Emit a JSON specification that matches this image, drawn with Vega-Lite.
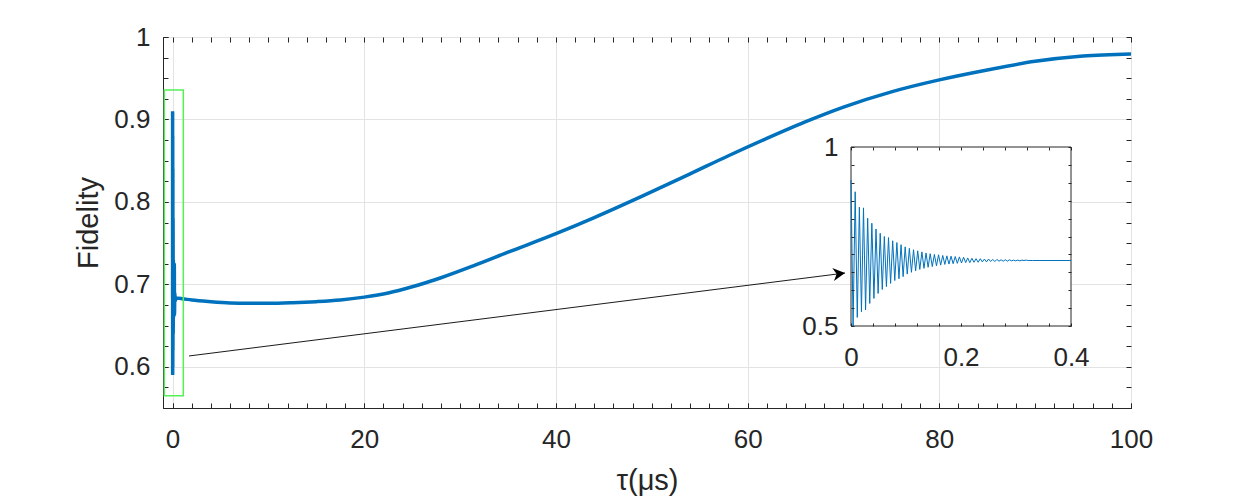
{
  "$schema": "https://vega.github.io/schema/vega-lite/v6.json",
  "autosize": {"type": "none"},
  "padding": {"left": 163, "top": 37, "right": 119, "bottom": 92},
  "width": 968,
  "height": 371,
  "background": "white",
  "datasets": {
    "main": [
      {"t": 0, "F": 0.683}, {"t": 0.003, "F": 0.91}, {"t": 0.008, "F": 0.59}, {"t": 0.015, "F": 0.88},
      {"t": 0.022, "F": 0.6}, {"t": 0.03, "F": 0.84}, {"t": 0.038, "F": 0.62}, {"t": 0.05, "F": 0.78},
      {"t": 0.065, "F": 0.64}, {"t": 0.08, "F": 0.73}, {"t": 0.1, "F": 0.66}, {"t": 0.13, "F": 0.7},
      {"t": 0.16, "F": 0.675}, {"t": 0.18, "F": 0.725}, {"t": 0.2, "F": 0.663}, {"t": 0.23, "F": 0.69},
      {"t": 0.28, "F": 0.68}, {"t": 0.35, "F": 0.683}, {"t": 0.6, "F": 0.683}, {"t": 1, "F": 0.6825},
      {"t": 2, "F": 0.681}, {"t": 4, "F": 0.679}, {"t": 6, "F": 0.6775}, {"t": 8, "F": 0.677},
      {"t": 10, "F": 0.677}, {"t": 12.5, "F": 0.6777}, {"t": 15, "F": 0.679}, {"t": 17.5, "F": 0.681},
      {"t": 20, "F": 0.6845}, {"t": 22.5, "F": 0.6895}, {"t": 25, "F": 0.697}, {"t": 28, "F": 0.708},
      {"t": 31.5, "F": 0.723}, {"t": 35, "F": 0.739}, {"t": 40, "F": 0.7615}, {"t": 44, "F": 0.781},
      {"t": 49, "F": 0.807}, {"t": 54, "F": 0.834}, {"t": 58, "F": 0.856}, {"t": 62, "F": 0.877},
      {"t": 66, "F": 0.897}, {"t": 70, "F": 0.915}, {"t": 75, "F": 0.9335}, {"t": 80, "F": 0.948},
      {"t": 85, "F": 0.96}, {"t": 90, "F": 0.9705}, {"t": 95, "F": 0.977}, {"t": 100, "F": 0.9795}
    ],
    "osc": [
      {"t": 0, "F": 0.908}, {"t": 0.0038, "F": 0.5},
      {"t": 0.0076, "F": 0.875}, {"t": 0.0114, "F": 0.524},
      {"t": 0.0152, "F": 0.832}, {"t": 0.019, "F": 0.54},
      {"t": 0.0227, "F": 0.83}, {"t": 0.0265, "F": 0.545},
      {"t": 0.0303, "F": 0.801}, {"t": 0.0341, "F": 0.563},
      {"t": 0.0379, "F": 0.787}, {"t": 0.0417, "F": 0.577},
      {"t": 0.0455, "F": 0.771}, {"t": 0.0493, "F": 0.591},
      {"t": 0.0531, "F": 0.759}, {"t": 0.0569, "F": 0.602},
      {"t": 0.0606, "F": 0.75}, {"t": 0.0644, "F": 0.61},
      {"t": 0.0682, "F": 0.747}, {"t": 0.072, "F": 0.619},
      {"t": 0.0758, "F": 0.738}, {"t": 0.0796, "F": 0.627},
      {"t": 0.0834, "F": 0.733}, {"t": 0.0872, "F": 0.632},
      {"t": 0.091, "F": 0.727}, {"t": 0.0948, "F": 0.638},
      {"t": 0.0985, "F": 0.721}, {"t": 0.1023, "F": 0.645},
      {"t": 0.1061, "F": 0.717}, {"t": 0.1099, "F": 0.65},
      {"t": 0.1137, "F": 0.713}, {"t": 0.1175, "F": 0.654},
      {"t": 0.1213, "F": 0.71}, {"t": 0.1251, "F": 0.658},
      {"t": 0.1289, "F": 0.707}, {"t": 0.1327, "F": 0.661},
      {"t": 0.1364, "F": 0.704}, {"t": 0.1402, "F": 0.664},
      {"t": 0.144, "F": 0.702}, {"t": 0.1478, "F": 0.666},
      {"t": 0.1516, "F": 0.7}, {"t": 0.1554, "F": 0.668},
      {"t": 0.1592, "F": 0.699}, {"t": 0.163, "F": 0.67},
      {"t": 0.1668, "F": 0.697}, {"t": 0.1706, "F": 0.672},
      {"t": 0.1743, "F": 0.696}, {"t": 0.1781, "F": 0.673},
      {"t": 0.1819, "F": 0.695}, {"t": 0.1857, "F": 0.674},
      {"t": 0.1895, "F": 0.694}, {"t": 0.1933, "F": 0.675},
      {"t": 0.1971, "F": 0.693}, {"t": 0.2009, "F": 0.676},
      {"t": 0.2047, "F": 0.692}, {"t": 0.2085, "F": 0.677},
      {"t": 0.2122, "F": 0.69}, {"t": 0.216, "F": 0.677},
      {"t": 0.2198, "F": 0.689}, {"t": 0.2236, "F": 0.678},
      {"t": 0.2274, "F": 0.688}, {"t": 0.2312, "F": 0.678},
      {"t": 0.235, "F": 0.688}, {"t": 0.2388, "F": 0.679},
      {"t": 0.2426, "F": 0.687}, {"t": 0.2464, "F": 0.679},
      {"t": 0.2501, "F": 0.687}, {"t": 0.2539, "F": 0.68},
      {"t": 0.2577, "F": 0.686}, {"t": 0.2615, "F": 0.68},
      {"t": 0.2653, "F": 0.686}, {"t": 0.2691, "F": 0.681},
      {"t": 0.2729, "F": 0.685}, {"t": 0.2767, "F": 0.681},
      {"t": 0.2805, "F": 0.685}, {"t": 0.2843, "F": 0.681},
      {"t": 0.288, "F": 0.685}, {"t": 0.2918, "F": 0.682},
      {"t": 0.2956, "F": 0.684}, {"t": 0.2994, "F": 0.682},
      {"t": 0.3032, "F": 0.684}, {"t": 0.307, "F": 0.682},
      {"t": 0.3108, "F": 0.684}, {"t": 0.3146, "F": 0.683},
      {"t": 0.3184, "F": 0.684}, {"t": 0.3222, "F": 0.683},
      {"t": 0.33, "F": 0.683}, {"t": 0.36, "F": 0.683}, {"t": 0.4, "F": 0.683}
    ],
    "box": [{"x1": -0.864, "x2": 1.118, "y1": 0.9357, "y2": 0.5649}],
    "arrow": [{"x1": 1.713, "y1": 0.6131, "x2": 70.16, "y2": 0.7137}],
    "inset": [{"a": 0, "b": 0.4, "c": 0.5, "d": 1}]
  },
  "layer": [
    {
      "data": {"name": "main"},
      "mark": {"type": "line", "color": "#0072BD", "strokeWidth": 3.5, "interpolate": "monotone"},
      "encoding": {
        "x": {"field": "t", "type": "quantitative",
          "scale": {"domain": [-1, 100], "nice": false, "zero": false},
          "axis": {"orient": "bottom", "values": [0, 20, 40, 60, 80, 100], "grid": true, "title": "τ(μs)", "labelPadding": 23, "titlePadding": 14}},
        "y": {"field": "F", "type": "quantitative",
          "scale": {"domain": [0.55, 1], "nice": false, "zero": false},
          "axis": {"orient": "left", "values": [0.6, 0.7, 0.8, 0.9, 1], "format": "~g", "grid": true, "title": "Fidelity", "labelPadding": 18, "titlePadding": 10}}
      }
    },
    {
      "data": {"name": "box"},
      "mark": {"type": "rect", "fillOpacity": 0, "stroke": "#55f055", "strokeWidth": 1.5},
      "encoding": {
        "x": {"field": "x1", "type": "quantitative",
          "scale": {"domain": [-1, 100], "nice": false, "zero": false},
          "axis": {"orient": "bottom", "values": [0, 2, 4, 6, 8, 10, 12, 14, 16, 18, 20, 22, 24, 26, 28, 30, 32, 34, 36, 38, 40, 42, 44, 46, 48, 50, 52, 54, 56, 58, 60, 62, 64, 66, 68, 70, 72, 74, 76, 78, 80, 82, 84, 86, 88, 90, 92, 94, 96, 98, 100], "labels": false, "grid": false, "domain": false, "title": null}},
        "x2": {"field": "x2"},
        "y": {"field": "y1", "type": "quantitative",
          "scale": {"domain": [0.55, 1], "nice": false, "zero": false},
          "axis": {"orient": "left", "values": [0.55, 0.575, 0.6, 0.625, 0.65, 0.675, 0.7, 0.725, 0.75, 0.775, 0.8, 0.825, 0.85, 0.875, 0.9, 0.925, 0.95, 0.975, 1], "labels": false, "grid": false, "domain": false, "title": null}},
        "y2": {"field": "y2"}
      }
    },
    {
      "data": {"name": "arrow"},
      "mark": {"type": "rule", "color": "black", "strokeWidth": 0.9},
      "encoding": {
        "x": {"field": "x1", "type": "quantitative",
          "scale": {"domain": [-1, 100], "nice": false, "zero": false},
          "axis": {"orient": "top", "values": [0, 2, 4, 6, 8, 10, 12, 14, 16, 18, 20, 22, 24, 26, 28, 30, 32, 34, 36, 38, 40, 42, 44, 46, 48, 50, 52, 54, 56, 58, 60, 62, 64, 66, 68, 70, 72, 74, 76, 78, 80, 82, 84, 86, 88, 90, 92, 94, 96, 98, 100], "labels": false, "grid": false, "domain": false, "title": null}},
        "x2": {"field": "x2"},
        "y": {"field": "y1", "type": "quantitative",
          "scale": {"domain": [0.55, 1], "nice": false, "zero": false},
          "axis": {"orient": "right", "values": [0.55, 0.575, 0.6, 0.625, 0.65, 0.675, 0.7, 0.725, 0.75, 0.775, 0.8, 0.825, 0.85, 0.875, 0.9, 0.925, 0.95, 0.975, 1], "labels": false, "grid": false, "domain": false, "title": null}},
        "y2": {"field": "y2"}
      }
    },
    {
      "data": {"name": "arrow"},
      "mark": {"type": "point", "shape": "M0,0L-2,-1.1L-1.4,0L-2,1.1Z", "filled": true, "color": "black", "opacity": 1, "size": 144, "angle": -7.2},
      "encoding": {
        "x": {"field": "x2", "type": "quantitative", "scale": {"domain": [-1, 100], "nice": false, "zero": false}, "axis": null},
        "y": {"field": "y2", "type": "quantitative", "scale": {"domain": [0.55, 1], "nice": false, "zero": false}, "axis": null}
      }
    },
    {
      "data": {"name": "inset"},
      "mark": {"type": "rect", "fill": "white", "stroke": "#262626", "strokeWidth": 1},
      "encoding": {
        "x": {"field": "a", "type": "quantitative",
          "scale": {"domain": [0, 0.4], "range": [688, 908], "nice": false, "zero": false},
          "axis": {"orient": "top", "offset": -110, "values": [0, 0.04, 0.08, 0.12, 0.16, 0.2, 0.24, 0.28, 0.32, 0.36, 0.4], "labels": false, "grid": false, "domain": false, "tickSize": -3, "title": null, "zindex": 1}},
        "x2": {"field": "b"},
        "y": {"field": "c", "type": "quantitative",
          "scale": {"domain": [0.5, 1], "range": [289, 110], "nice": false, "zero": false},
          "axis": {"orient": "right", "offset": -60, "values": [0.5, 0.55, 0.6, 0.65, 0.7, 0.75, 0.8, 0.85, 0.9, 0.95, 1], "labels": false, "grid": false, "domain": false, "tickSize": -3, "title": null, "zindex": 1}},
        "y2": {"field": "d"}
      }
    },
    {
      "data": {"name": "osc"},
      "mark": {"type": "line", "color": "#0072BD", "strokeWidth": 1},
      "encoding": {
        "x": {"field": "t", "type": "quantitative",
          "scale": {"domain": [0, 0.4], "range": [688, 908], "nice": false, "zero": false},
          "axis": {"orient": "bottom", "offset": -82, "values": [0, 0.04, 0.08, 0.12, 0.16, 0.2, 0.24, 0.28, 0.32, 0.36, 0.4], "format": "~g", "labelExpr": "datum.value == 0 || datum.value == 0.2 || datum.value == 0.4 ? datum.label : ''", "grid": false, "domain": false, "tickSize": -3, "labelPadding": 21, "title": null, "zindex": 1}},
        "y": {"field": "F", "type": "quantitative",
          "scale": {"domain": [0.5, 1], "range": [289, 110], "nice": false, "zero": false},
          "axis": {"orient": "left", "offset": -688, "values": [0.5, 0.55, 0.6, 0.65, 0.7, 0.75, 0.8, 0.85, 0.9, 0.95, 1], "format": "~g", "labelExpr": "datum.value == 0.5 || datum.value == 1 ? datum.label : ''", "grid": false, "domain": false, "tickSize": -3, "labelPadding": 16, "title": null, "zindex": 1}}
      }
    }
  ],
  "resolve": {
    "scale": {"x": "independent", "y": "independent"},
    "axis": {"x": "independent", "y": "independent"}
  },
  "config": {
    "font": "Liberation Sans",
    "view": {"stroke": "#262626", "strokeWidth": 1},
    "axis": {
      "labelFont": "Liberation Sans", "labelFontSize": 26, "labelColor": "#262626",
      "titleFont": "Liberation Sans", "titleFontSize": 29, "titleFontWeight": "normal", "titleColor": "#262626",
      "tickColor": "#262626", "tickSize": -5, "tickWidth": 1,
      "domainColor": "#262626", "domainWidth": 1,
      "gridColor": "#e3e3e3", "gridWidth": 1,
      "labelFlush": false, "labelOverlap": false, "labelBound": false
    }
  }
}
